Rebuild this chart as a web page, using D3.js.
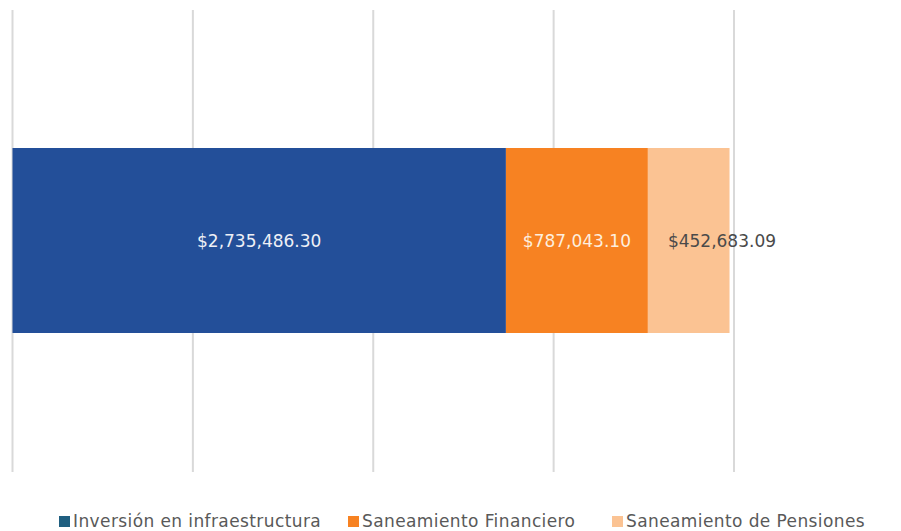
<!DOCTYPE html>
<html>
<head>
<meta charset="utf-8">
<script src="https://cdn.jsdelivr.net/npm/d3@7"></script>
<style>
  body { margin: 0; background: #fff; }
  svg { display: block; font-family: "DejaVu Sans", sans-serif; }
</style>
</head>
<body>
<svg id="chart" width="901" height="531"></svg>
<script>
var seriesNames = ["Inversión en infraestructura", "Saneamiento Financiero", "Saneamiento de Pensiones"];
var seriesValues = [2735486.30, 787043.10, 452683.09];
var barColors = ["#234f99", "#f78222", "#fbc393"];
var legendColors = ["#1f5f80", "#f78222", "#fbc393"];
var labelColors = ["#eef0f6", "#fdeede", "#4a4a4a"];
var gridTicks = [0, 1000000, 2000000, 3000000, 4000000];

var svg = d3.select("#chart");

var x = d3.scaleLinear().domain([0, 4000000]).range([12.5, 734]);

// gridlines
svg.append("g")
    .selectAll("line.grid")
    .data(gridTicks).enter()
    .append("line")
    .attr("class", "grid")
    .attr("x1", function (d) { return x(d); })
    .attr("x2", function (d) { return x(d); })
    .attr("y1", 10)
    .attr("y2", 472)
    .attr("stroke", "#d9d9d9")
    .attr("stroke-width", 2);

// stacked segments
var segs = [];
var acc = 0;
seriesValues.forEach(function (v, i) {
    segs.push({ name: seriesNames[i], value: v, x0: acc, x1: acc + v, i: i });
    acc += v;
});

var fmt = d3.format("$,.2f");

svg.append("g")
    .selectAll("rect.seg")
    .data(segs).enter()
    .append("rect")
    .attr("class", "seg")
    .attr("x", function (d) { return x(d.x0); })
    .attr("width", function (d) { return x(d.x1) - x(d.x0); })
    .attr("y", 148)
    .attr("height", 185)
    .attr("fill", function (d) { return barColors[d.i]; });

svg.append("g")
    .selectAll("text.lbl")
    .data(segs).enter()
    .append("text")
    .attr("class", "lbl")
    .attr("x", function (d) {
        if (d.i === 2) return x(d.x0) + 20;
        return (x(d.x0) + x(d.x1)) / 2;
    })
    .attr("y", 241)
    .attr("dy", "0.35em")
    .attr("text-anchor", function (d) { return d.i === 2 ? "start" : "middle"; })
    .attr("font-size", 17)
    .attr("fill", function (d) { return labelColors[d.i]; })
    .text(function (d) { return fmt(d.value); });

// legend
var legendX = [59, 348, 612];
var legend = svg.append("g")
    .selectAll("g.leg")
    .data(seriesNames).enter()
    .append("g")
    .attr("class", "leg")
    .attr("transform", function (d, i) { return "translate(" + legendX[i] + ",521)"; });

legend.append("rect")
    .attr("x", 0).attr("y", -5)
    .attr("width", 11).attr("height", 11)
    .attr("fill", function (d, i) { return legendColors[i]; });

legend.append("text")
    .attr("x", 14)
    .attr("y", 0)
    .attr("dy", "0.35em")
    .attr("font-size", 17)
    .attr("letter-spacing", 0.4)
    .attr("fill", "#595959")
    .text(function (d) { return d; });
</script>
</body>
</html>
